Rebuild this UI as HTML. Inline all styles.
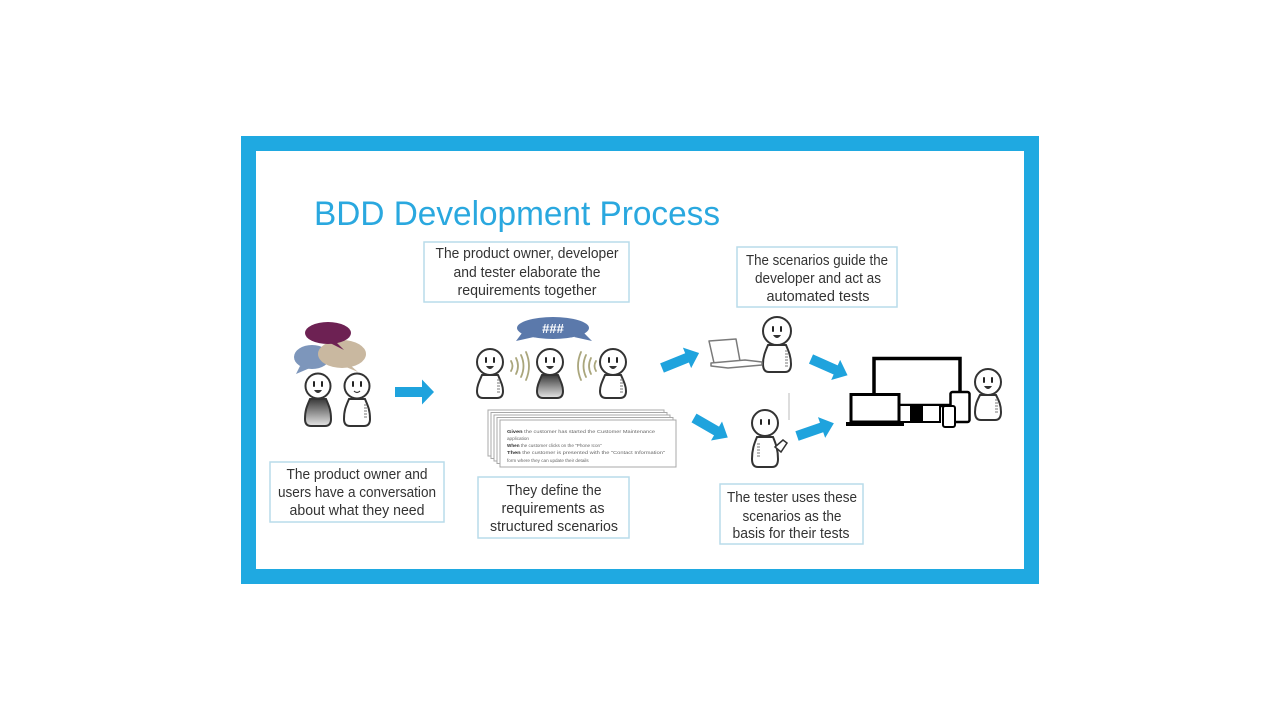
<!DOCTYPE html>
<html><head><meta charset="utf-8"><style>
html,body{margin:0;padding:0;background:#fff;}
svg{display:block;}
text{font-family:"Liberation Sans",sans-serif;}
</style></head><body>
<svg width="1280" height="720" viewBox="0 0 1280 720" xmlns="http://www.w3.org/2000/svg">
<defs>
<linearGradient id="dk" x1="0" y1="0" x2="0" y2="1">
<stop offset="0" stop-color="#3a3a3a"/><stop offset="1" stop-color="#e6e6e6"/>
</linearGradient>
</defs>
<rect width="1280" height="720" fill="#fff"/>
<!-- frame -->
<rect x="248.5" y="143.5" width="783" height="433" fill="#fff" stroke="#1fa9e1" stroke-width="15"/>
<!-- title -->
<text x="314" y="225" font-size="34" fill="#2aa8df" textLength="406" lengthAdjust="spacingAndGlyphs">BDD Development Process</text>

<!-- text boxes -->
<g fill="#fff" stroke="#b9dcea" stroke-width="1.5">
<rect x="424" y="242" width="205" height="60"/>
<rect x="737" y="247" width="160" height="60"/>
<rect x="270" y="462" width="174" height="60"/>
<rect x="478" y="477" width="151" height="61"/>
<rect x="720" y="484" width="143" height="60"/>
</g>
<g font-size="14.5" fill="#333" text-anchor="middle" lengthAdjust="spacingAndGlyphs">
<text x="527" y="258" textLength="183" lengthAdjust="spacingAndGlyphs">The product owner, developer</text>
<text x="527" y="277" textLength="147" lengthAdjust="spacingAndGlyphs">and tester elaborate the</text>
<text x="527" y="295" textLength="139" lengthAdjust="spacingAndGlyphs">requirements together</text>
<text x="817" y="265" textLength="142" lengthAdjust="spacingAndGlyphs">The scenarios guide the</text>
<text x="818" y="283" textLength="126" lengthAdjust="spacingAndGlyphs">developer and act as</text>
<text x="818" y="301" textLength="103" lengthAdjust="spacingAndGlyphs">automated tests</text>
<text x="357" y="479" textLength="141" lengthAdjust="spacingAndGlyphs">The product owner and</text>
<text x="357" y="497" textLength="158" lengthAdjust="spacingAndGlyphs">users have a conversation</text>
<text x="357" y="515" textLength="135" lengthAdjust="spacingAndGlyphs">about what they need</text>
<text x="554" y="495" textLength="95" lengthAdjust="spacingAndGlyphs">They define the</text>
<text x="553" y="513" textLength="103" lengthAdjust="spacingAndGlyphs">requirements as</text>
<text x="554" y="531" textLength="128" lengthAdjust="spacingAndGlyphs">structured  scenarios</text>
<text x="792" y="502" textLength="130" lengthAdjust="spacingAndGlyphs">The tester uses these</text>
<text x="792" y="521" textLength="99" lengthAdjust="spacingAndGlyphs">scenarios as the</text>
<text x="791" y="538" textLength="117" lengthAdjust="spacingAndGlyphs">basis for their tests</text>
</g>

<!-- left speech bubbles -->
<ellipse cx="312" cy="357" rx="18" ry="12" fill="#7d96bb"/>
<path d="M300,366 L296,374 L310,368 Z" fill="#7d96bb"/>
<ellipse cx="342" cy="354" rx="24" ry="14" fill="#c9b8a0"/>
<path d="M350,365 L358,372 L346,367 Z" fill="#c9b8a0"/>
<ellipse cx="328" cy="333" rx="23" ry="11" fill="#6d2153"/>
<path d="M336,342 L344,350 L330,343 Z" fill="#6d2153"/>

<!-- ### bubble -->
<ellipse cx="553" cy="328" rx="36" ry="11" fill="#5b79ab"/>
<path d="M522,333 L516,341 L534,337 Z M584,333 L592,341 L574,337 Z" fill="#5b79ab"/>
<text x="553" y="333" font-size="13" font-weight="bold" fill="#fff" text-anchor="middle">###</text>

<!-- sound waves -->
<g fill="none" stroke="#aaa67c" stroke-width="1.8" stroke-linecap="round">
<path d="M511,361 Q514,366 511,371"/>
<path d="M516,358 Q520,366 516,374"/>
<path d="M521,355 Q526,366 521,377"/>
<path d="M526,352 Q532,366 526,380"/>
<path d="M596,361 Q593,366 596,371"/>
<path d="M591,358 Q587,366 591,374"/>
<path d="M586,355 Q581,366 586,377"/>
<path d="M581,352 Q575,366 581,380"/>
</g>

<!-- people -->
<g stroke="#333" stroke-width="2" fill="#fff">
<!-- left group -->
<path d="M310,399 C307,406 305,410 305,419 Q305,426 311,426 L325,426 Q331,426 331,419 C331,410 329,406 326,399 Z" fill="url(#dk)"/>
<circle cx="318" cy="386" r="12.5"/>
<path d="M349,399 C346,406 344,410 344,419 Q344,426 350,426 L364,426 Q370,426 370,419 C370,410 368,406 365,399 Z"/>
<circle cx="357" cy="386" r="12.5"/>
<!-- group 2 -->
<path d="M482,375 C479,382 477,386 477,391 Q477,398 483,398 L497,398 Q503,398 503,391 C503,386 501,382 498,375 Z"/>
<circle cx="490" cy="362" r="13"/>
<path d="M542,375 C539,382 537,386 537,391 Q537,398 543,398 L557,398 Q563,398 563,391 C563,386 561,382 558,375 Z" fill="url(#dk)"/>
<circle cx="550" cy="362" r="13"/>
<path d="M605,375 C602,382 600,386 600,391 Q600,398 606,398 L620,398 Q626,398 626,391 C626,386 624,382 621,375 Z"/>
<circle cx="613" cy="362" r="13"/>
<!-- developer -->
<path d="M768,345 C765,352 763,357 763,364 Q763,372 769,372 L785,372 Q791,372 791,364 C791,357 789,352 786,345 Z"/>
<circle cx="777" cy="331" r="14"/>
<!-- right person -->
<path d="M980,395 C977,401 975,405 975,412 Q975,420 981,420 L995,420 Q1001,420 1001,412 C1001,405 999,401 996,395 Z"/>
<circle cx="988" cy="382" r="13"/>
<!-- tester -->
<path d="M757,437 C754,444 752,450 752,459 Q752,467 758,467 L772,467 Q778,467 778,459 C778,450 776,444 773,437 Z"/>
<circle cx="765" cy="423" r="13"/>
<path d="M775,447 L783,440 L787,443 L781,452 Z" stroke-width="1.5"/>
</g>
<line x1="789" y1="393" x2="789" y2="420" stroke="#bbb" stroke-width="1"/>

<!-- faces -->
<g stroke="#222" stroke-width="2" stroke-linecap="round">
<line x1="314" y1="382" x2="314" y2="386"/><line x1="322" y1="382" x2="322" y2="386"/>
<line x1="353" y1="382" x2="353" y2="386"/><line x1="361" y1="382" x2="361" y2="386"/>
<line x1="486" y1="358" x2="486" y2="362"/><line x1="494" y1="358" x2="494" y2="362"/>
<line x1="546" y1="358" x2="546" y2="362"/><line x1="554" y1="358" x2="554" y2="362"/>
<line x1="609" y1="358" x2="609" y2="362"/><line x1="617" y1="358" x2="617" y2="362"/>
<line x1="773" y1="327" x2="773" y2="331"/><line x1="781" y1="327" x2="781" y2="331"/>
<line x1="984" y1="378" x2="984" y2="382"/><line x1="992" y1="378" x2="992" y2="382"/>
<line x1="761" y1="420" x2="761" y2="424"/><line x1="769" y1="420" x2="769" y2="424"/>
</g>
<g fill="#333">
<path d="M314,390 Q318,396 322,390 Z"/>
<path d="M354,391 Q357,394 360,391" fill="none" stroke="#333" stroke-width="1.2"/>
<path d="M486,366 Q490,372 494,366 Z"/>
<path d="M546,366 Q550,372 554,366 Z"/>
<path d="M609,366 Q613,372 617,366 Z"/>
<path d="M773,335 Q777,341 781,335 Z"/>
<path d="M984,386 Q988,392 992,386 Z"/>
</g>
<!-- body ticks -->
<g stroke="#777" stroke-width="1">
<path d="M364,405h3M364,408h3M364,411h3M364,414h3M364,417h3"/>
<path d="M497,380h3M497,383h3M497,386h3M497,389h3M497,392h3"/>
<path d="M620,380h3M620,383h3M620,386h3M620,389h3M620,392h3"/>
<path d="M785,351h3M785,354h3M785,357h3M785,360h3M785,363h3M785,366h3"/>
<path d="M995,400h3M995,403h3M995,406h3M995,409h3M995,412h3"/>
<path d="M757,444h3M757,447h3M757,450h3M757,453h3M757,456h3"/>
</g>

<!-- scenario cards -->
<g fill="#fff" stroke="#a8a8a8" stroke-width="1">
<rect x="488" y="410" width="176" height="46"/>
<rect x="491" y="412.5" width="176" height="46"/>
<rect x="494" y="415" width="176" height="46"/>
<rect x="497" y="417.5" width="176" height="46"/>
<rect x="500" y="420" width="176" height="47"/>
</g>
<g font-size="4.6" fill="#666">
<text x="507" y="433" textLength="148" lengthAdjust="spacingAndGlyphs"><tspan font-weight="bold" fill="#333">Given</tspan> the customer has started the Customer Maintenance</text>
<text x="507" y="440">application</text>
<text x="507" y="447"><tspan font-weight="bold" fill="#333">When</tspan> the customer clicks on the "Phone Icon"</text>
<text x="507" y="454" textLength="158" lengthAdjust="spacingAndGlyphs"><tspan font-weight="bold" fill="#333">Then</tspan> the customer is presented with the "Contact Information"</text>
<text x="507" y="462">form where they can update their details</text>
</g>

<!-- laptop (gray) -->
<g fill="#fff" stroke="#7a7a7a" stroke-width="1.5" stroke-linejoin="round">
<path d="M709,341 L736,339 L740,361 L714,363 Z"/>
<path d="M711,363 L745,360 L762,362 L762,365 L728,368 L711,366 Z"/>
</g>

<!-- devices -->
<g fill="#fff" stroke="#000" stroke-linejoin="miter">
<rect x="874" y="358.5" width="86" height="47" stroke-width="3.5"/>
<rect x="899" y="405" width="41" height="17" stroke-width="2"/>
<rect x="910" y="406" width="13" height="16" fill="#000" stroke="none"/>
<rect x="851" y="394.5" width="48" height="27.5" stroke-width="3"/>
<rect x="846" y="422" width="58" height="4" fill="#000" stroke="none"/>
<rect x="950.5" y="392" width="19" height="30" rx="2" stroke-width="2.5"/>
<rect x="943" y="406" width="12" height="21" rx="2" stroke-width="2"/>
</g>

<!-- arrows -->
<g fill="#1fa3dd">
<path transform="translate(395,392)" d="M0,-5 L27,-5 L27,-12.5 L39,0 L27,12.5 L27,5 L0,5 Z"/>
<path transform="translate(662,368) rotate(-22)" d="M0,-5 L27,-5 L27,-11 L40,0 L27,11 L27,5 L0,5 Z"/>
<path transform="translate(694,418) rotate(30)" d="M0,-5 L26,-5 L26,-11 L39,0 L26,11 L26,5 L0,5 Z"/>
<path transform="translate(811,359) rotate(24)" d="M0,-5 L27,-5 L27,-11 L40,0 L27,11 L27,5 L0,5 Z"/>
<path transform="translate(797,436) rotate(-19)" d="M0,-5 L26,-5 L26,-11 L39,0 L26,11 L26,5 L0,5 Z"/>
</g>
</svg>
</body></html>
